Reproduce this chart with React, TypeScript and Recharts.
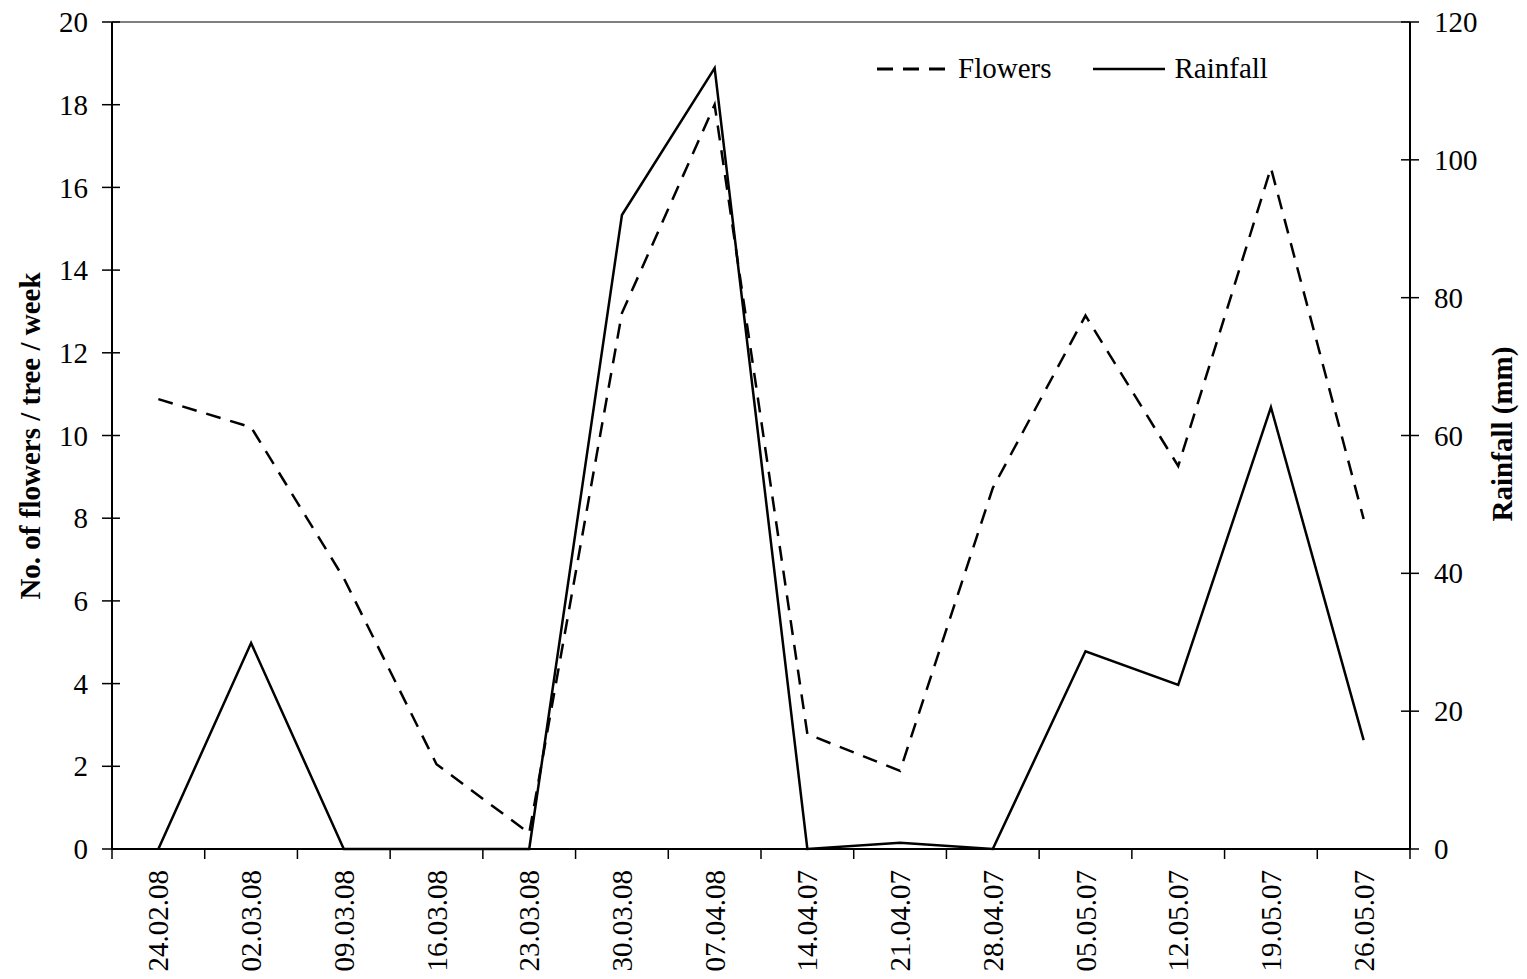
import React from 'react';
import { LineChart, Line, XAxis, YAxis, Legend, ReferenceLine } from 'recharts';

// weekly sampling dates (as printed on the axis)
const dates = [
  '24.02.08', '02.03.08', '09.03.08', '16.03.08', '23.03.08', '30.03.08', '07.04.08',
  '14.04.07', '21.04.07', '28.04.07', '05.05.07', '12.05.07', '19.05.07', '26.05.07',
];

// No. of flowers / tree / week (left axis)
const flowers = [10.88, 10.2, 6.55, 2.05, 0.38, 12.96, 18.0, 2.78, 1.89, 8.73, 12.9, 9.26, 16.47, 7.98];

// Rainfall in mm (right axis)
const rainfall = [0, 29.9, 0, 0, 0, 92.0, 113.3, 0, 0.9, 0, 28.7, 23.8, 64.1, 15.8];

const leftTicks = [0, 2, 4, 6, 8, 10, 12, 14, 16, 18, 20];
const rightTicks = [0, 20, 40, 60, 80, 100, 120];

const data = dates.map((date, i) => ({ date, flowers: flowers[i], rainfall: rainfall[i] }));

const FONT = '"Liberation Serif", "Times New Roman", serif';
const W = 1511;
const H = 963;
const PLOT_W = 1298;
const HALF_BAND = PLOT_W / dates.length / 2;

const XTick = (props: any) => {
  const { x, y, payload, index } = props;
  return (
    <g>
      <line x1={x - HALF_BAND} y1={y} x2={x - HALF_BAND} y2={y + 10} stroke="#000" strokeWidth={1.5} />
      {index === dates.length - 1 && (
        <line x1={x + HALF_BAND} y1={y} x2={x + HALF_BAND} y2={y + 10} stroke="#000" strokeWidth={1.5} />
      )}
      <text
        x={x}
        y={y + 21}
        transform={`rotate(-90, ${x}, ${y + 21})`}
        textAnchor="end"
        dy="0.35em"
        fontFamily={FONT}
        fontSize={29}
        fill="#000"
      >
        {payload.value}
      </text>
    </g>
  );
};

const LeftTick = (props: any) => {
  const { x, y, payload } = props;
  return (
    <g>
      <line x1={x - 10} y1={y} x2={x + 8} y2={y} stroke="#000" strokeWidth={1.5} />
      <text x={x - 24} y={y} dy="0.35em" textAnchor="end" fontFamily={FONT} fontSize={29} fill="#000">
        {payload.value}
      </text>
    </g>
  );
};

const RightTick = (props: any) => {
  const { x, y, payload } = props;
  return (
    <g>
      <line x1={x - 9} y1={y} x2={x + 9} y2={y} stroke="#000" strokeWidth={1.5} />
      <text x={x + 24} y={y} dy="0.35em" textAnchor="start" fontFamily={FONT} fontSize={29} fill="#000">
        {payload.value}
      </text>
    </g>
  );
};

const LegendContent = () => (
  <div style={{ display: 'flex', alignItems: 'center', fontFamily: FONT, fontSize: 29, color: '#000', whiteSpace: 'nowrap' }}>
    <svg width={68} height={10}>
      <line x1={0} y1={5} x2={68} y2={5} stroke="#000" strokeWidth={3} strokeDasharray="16 10" />
    </svg>
    <span style={{ marginLeft: 13 }}>Flowers</span>
    <svg width={72} height={10} style={{ marginLeft: 42 }}>
      <line x1={0} y1={5} x2={72} y2={5} stroke="#000" strokeWidth={2.5} />
    </svg>
    <span style={{ marginLeft: 9 }}>Rainfall</span>
  </div>
);

const titleStyle: React.CSSProperties = {
  position: 'absolute',
  transform: 'translate(-50%, -50%) rotate(-90deg)',
  fontFamily: FONT,
  fontWeight: 'bold',
  fontSize: 29,
  lineHeight: '30px',
  whiteSpace: 'nowrap',
  color: '#000',
};

export default function App() {
  return (
    <div style={{ position: 'relative', width: W, height: H, background: '#fff', overflow: 'hidden' }}>
      <LineChart width={W} height={H} data={data} margin={{ top: 14, right: 0, left: 0, bottom: 0 }}>
        <ReferenceLine yAxisId="left" y={20} stroke="#808080" strokeWidth={2} />
        <XAxis
          dataKey="date"
          scale="point"
          padding={{ left: HALF_BAND, right: HALF_BAND }}
          interval={0}
          height={122}
          tickSize={0}
          tickMargin={0}
          tickLine={false}
          axisLine={{ stroke: '#000', strokeWidth: 2 }}
          tick={<XTick />}
        />
        <YAxis
          yAxisId="left"
          orientation="left"
          width={104}
          domain={[0, 20]}
          ticks={leftTicks}
          tickSize={0}
          tickMargin={0}
          tickLine={false}
          axisLine={{ stroke: '#000', strokeWidth: 2 }}
          tick={<LeftTick />}
        />
        <YAxis
          yAxisId="right"
          orientation="right"
          width={109}
          domain={[0, 120]}
          ticks={rightTicks}
          tickSize={0}
          tickMargin={0}
          tickLine={false}
          axisLine={{ stroke: '#000', strokeWidth: 2 }}
          tick={<RightTick />}
        />
        <Line
          yAxisId="left"
          type="linear"
          dataKey="flowers"
          stroke="#000"
          strokeWidth={2.5}
          strokeDasharray="15 10"
          dot={false}
          isAnimationActive={false}
        />
        <Line
          yAxisId="right"
          type="linear"
          dataKey="rainfall"
          stroke="#000"
          strokeWidth={2.5}
          dot={false}
          isAnimationActive={false}
        />
        <Legend
          layout="horizontal"
          verticalAlign="middle"
          align="center"
          content={<LegendContent />}
          wrapperStyle={{ position: 'absolute', top: 44, left: 869, width: 'auto' }}
        />
      </LineChart>
      <div style={{ ...titleStyle, left: 22, top: 428 }}>No. of flowers / tree / week</div>
      <div style={{ ...titleStyle, left: 1494, top: 426 }}>Rainfall (mm)</div>
    </div>
  );
}
